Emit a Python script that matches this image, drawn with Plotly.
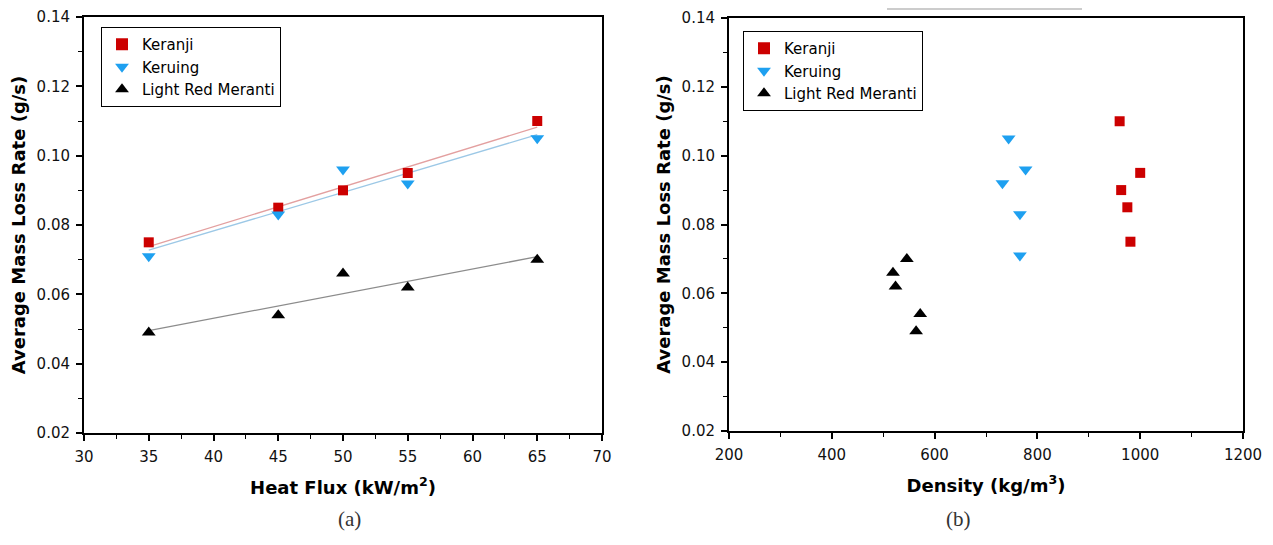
import numpy as np
import plotly.graph_objects as go

# ---- data ----
species = ["Keranji", "Keruing", "Light Red Meranti"]
heat_flux = [35, 45, 50, 55, 65]
mlr_keranji = [0.075, 0.085, 0.090, 0.095, 0.110]
mlr_keruing = [0.071, 0.083, 0.096, 0.092, 0.105]
mlr_lrm = [0.049, 0.054, 0.066, 0.062, 0.070]

dens_keranji = [981, 975, 963, 1000, 960]
dens_keruing = [766, 766, 777, 732, 744]
dens_lrm = [564, 572, 519, 524, 546]

x_ticks_a = [30, 35, 40, 45, 50, 55, 60, 65, 70]
x_ticks_b = [200, 400, 600, 800, 1000, 1200]
y_ticks = [0.02, 0.04, 0.06, 0.08, 0.10, 0.12, 0.14]

# ---- styles ----
marker_colors = ["#cc0000", "#1ea0f0", "#000000"]
marker_symbols = ["square", "triangle-down", "triangle-up"]
marker_sizes = [10, 12, 12]
fit_colors = ["#e3a0a0", "#9cc8e6", "#8c8c8c"]

W, H = 1273, 545
OFF = 8  # default page body margin
def px_x(p):
    return (p - OFF) / W
def px_y(p):
    return (H - (p - OFF)) / H

fig = go.Figure()

mlr = [mlr_keranji, mlr_keruing, mlr_lrm]
dens = [dens_keranji, dens_keruing, dens_lrm]

for i, name in enumerate(species):
    coef = np.polyfit(heat_flux, mlr[i], 1)
    xf = [min(heat_flux), max(heat_flux)]
    yf = list(np.polyval(coef, xf))
    fig.add_trace(go.Scatter(x=xf, y=yf, mode="lines",
                             line=dict(color=fit_colors[i], width=1.3),
                             showlegend=False, hoverinfo="skip",
                             xaxis="x", yaxis="y"))
for i, name in enumerate(species):
    fig.add_trace(go.Scatter(x=heat_flux, y=mlr[i], mode="markers", name=name,
                             marker=dict(color=marker_colors[i], symbol=marker_symbols[i],
                                         size=marker_sizes[i], line=dict(width=0)),
                             xaxis="x", yaxis="y", legend="legend"))
for i, name in enumerate(species):
    fig.add_trace(go.Scatter(x=dens[i], y=mlr[i], mode="markers", name=name,
                             marker=dict(color=marker_colors[i], symbol=marker_symbols[i],
                                         size=marker_sizes[i], line=dict(width=0)),
                             xaxis="x2", yaxis="y2", legend="legend2"))

FONT = "DejaVu Sans, Arial, sans-serif"
tickfont = dict(family=FONT, size=15, color="#111")
titlefont = dict(family=FONT, size=18, color="#000")

def xaxis(domain, rng, ticks, dminor, title, anchor):
    return dict(domain=domain, range=rng, tickvals=ticks, ticks="outside", ticklen=6,
                tickwidth=1.5, tickcolor="#000", showline=True, linecolor="#000",
                linewidth=2, mirror=True, showgrid=False, zeroline=False,
                tickfont=tickfont, anchor=anchor, automargin=False, ticklabelstandoff=3,
                minor=dict(dtick=dminor, ticks="outside", ticklen=4, tickwidth=1.2,
                           tickcolor="#000", showgrid=False),
                title=dict(text=title, font=titlefont, standoff=16))

def yaxis(domain, anchor):
    return dict(domain=domain, range=[0.02, 0.14], tickvals=y_ticks,
                ticktext=[f"{v:.2f}" for v in y_ticks],
                ticks="outside", ticklen=6, tickwidth=1.5, tickcolor="#000",
                showline=True, linecolor="#000", linewidth=2, mirror=True,
                showgrid=False, zeroline=False, tickfont=tickfont, anchor=anchor,
                automargin=False, ticklabelstandoff=3,
                minor=dict(dtick=0.01, ticks="outside", ticklen=4, tickwidth=1.2,
                           tickcolor="#000", showgrid=False),
                title=dict(text="<b>Average Mass Loss Rate (g/s)</b>", font=titlefont, standoff=6))

legend_style = dict(bgcolor="white", bordercolor="#000", borderwidth=1,
                    font=dict(family=FONT, size=15, color="#000"),
                    xanchor="left", yanchor="top", tracegroupgap=0, itemsizing="constant")

fig.update_layout(
    width=W, height=H,
    margin=dict(l=0, r=0, t=0, b=0, autoexpand=False),
    paper_bgcolor="white", plot_bgcolor="white",
    xaxis=xaxis([px_x(84), px_x(602)], [30, 70], x_ticks_a, 2.5,
                "<b>Heat Flux (kW/m<sup>2</sup>)</b>", "y"),
    yaxis=yaxis([px_y(433), px_y(17)], "x"),
    xaxis2=xaxis([px_x(729), px_x(1243)], [200, 1200], x_ticks_b, 100,
                 "<b>Density (kg/m<sup>3</sup>)</b>", "y2"),
    yaxis2=yaxis([px_y(431), px_y(18)], "x2"),
    legend=dict(x=px_x(101), y=px_y(27), **legend_style),
    legend2=dict(x=px_x(743), y=px_y(31), **legend_style),
    annotations=[
        dict(text="(a)", x=px_x(336), y=px_y(533), xref="paper", yref="paper",
             showarrow=False, font=dict(family="Liberation Serif, serif", size=21, color="#333")),
        dict(text="(b)", x=px_x(973), y=px_y(533), xref="paper", yref="paper",
             showarrow=False, font=dict(family="Liberation Serif, serif", size=21, color="#333")),
    ],
    shapes=[dict(type="line", xref="paper", yref="paper", x0=px_x(887), x1=px_x(1082),
                 y0=px_y(9), y1=px_y(9), line=dict(color="#999", width=1))],
)

fig.write_html("out.html")
